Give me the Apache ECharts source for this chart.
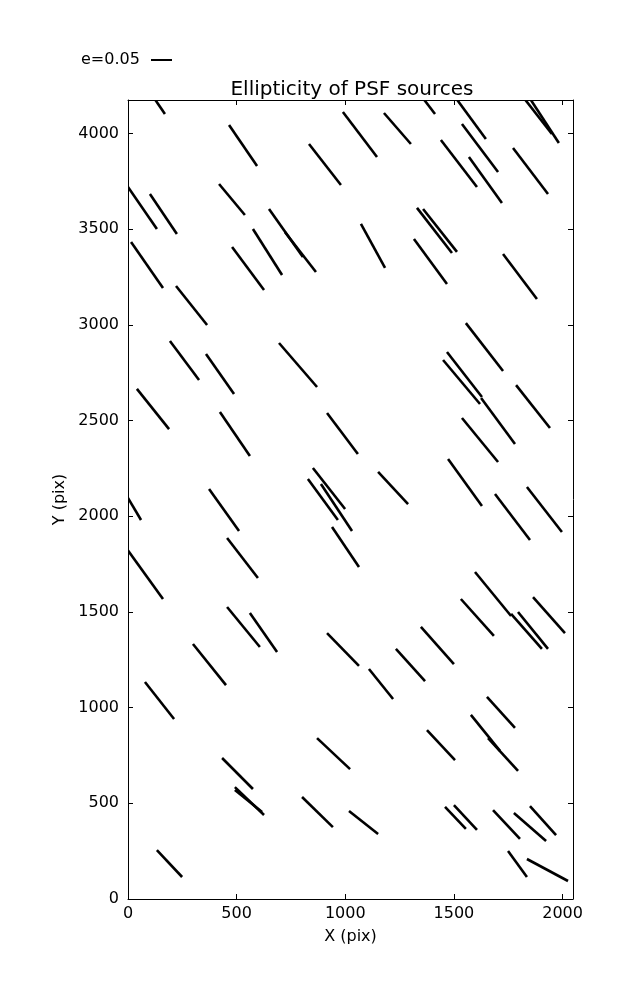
<!DOCTYPE html>
<html>
<head>
<meta charset="utf-8">
<script src="https://cdn.jsdelivr.net/npm/echarts@6/dist/echarts.min.js"></script>
<style>
html,body{margin:0;padding:0;background:#fff;}
#chart{width:637px;height:1000px;}
</style>
</head>
<body>
<div id="chart"></div>
<script>
// Whisker end points (data units, CCD pixels)
const xStart = [120,465,989,833,0,101,419,649,722,575,479,14,221,193,359,695,
  1178,1353,1505,1818,1845,1537,1440,1569,1772,1072,1330,1358,1316,1726,1555,1450,1468,1625,
  41,423,916,1786,1537,1151,851,828,888,1473,1689,1836,-10,373,939,456,-5,1597,1532,1763,1795,1864,
  456,561,916,1348,299,78,1233,1109,1652,1578,1657,1376,870,433,492,492,801,1017,1459,1500,1680,1776,1850,133,1749,1836];
const yStart = [4186,4045,4113,3946,3721,3685,3737,3606,3486,3502,3408,3434,3204,2916,2848,2906,
  4108,4192,4192,4192,4192,4051,3967,3878,3925,3528,3612,3606,3449,3371,3010,2817,2859,2618,
  2666,2545,2540,2686,2514,2232,2253,2195,2169,2300,2117,2153,2115,2143,1944,1887,1829,1709,1568,1490,1500,1578,
  1526,1495,1390,1422,1333,1134,1307,1202,1056,962,841,883,841,737,585,570,533,460,481,491,465,449,486,256,251,209];
const xEnd = [170,594,1146,980,133,225,538,805,865,709,626,161,364,327,488,870,
  1302,1413,1647,1951,1983,1703,1606,1721,1933,1183,1491,1514,1468,1882,1726,1620,1629,1781,
  189,561,1058,1942,1703,1289,999,966,1031,1629,1850,1997,60,511,1063,598,161,1763,1684,1905,1933,2011,
  607,686,1063,1500,451,212,1367,1220,1781,1712,1795,1505,1022,575,626,617,943,1151,1555,1606,1804,1924,1970,249,1836,2025];
const yEnd = [4103,3831,3878,3732,3502,3476,3575,3355,3277,3261,3183,3193,3000,2713,2639,2676,
  3946,4103,3972,3998,3951,3800,3721,3638,3685,3298,3376,3382,3214,3136,2760,2587,2624,2378,
  2456,2315,2326,2462,2284,2064,2038,1981,1923,2054,1876,1918,1981,1923,1735,1678,1568,1479,1375,1307,1307,1390,
  1317,1291,1218,1228,1118,941,1139,1045,894,774,669,726,679,575,439,455,376,340,366,361,314,303,334,115,115,94];

const xTicks = [0, 500, 1000, 1500, 2000];
const yTicks = [0, 500, 1000, 1500, 2000, 2500, 3000, 3500, 4000];
const xMax = 2048, yMax = 4176;
const titleText = 'Ellipticity of PSF sources';
const keyLabel = 'e=0.05';

const segData = xStart.map((v, i) => [v, yStart[i], xEnd[i], yEnd[i]]);

const FONT = 'DejaVu Sans';
const chart = echarts.init(document.getElementById('chart'), null, {renderer: 'canvas'});

const baseAxis = {
  type: 'value',
  interval: 500,
  splitLine: {show: false},
  axisLine: {show: true, onZero: false, lineStyle: {color: '#000', width: 1}},
  axisTick: {show: true, inside: true, length: 5, lineStyle: {color: '#000', width: 1}}
};

chart.setOption({
  animation: false,
  backgroundColor: '#fff',
  title: {
    text: titleText,
    left: 347,
    textAlign: 'center',
    top: 75,
    textStyle: {fontFamily: FONT, fontSize: 20, fontWeight: 'normal', color: '#000'}
  },
  grid: {left: 128, right: 64, top: 100, bottom: 101, containLabel: false},
  xAxis: [
    Object.assign({}, baseAxis, {
      min: 0, max: xMax, position: 'bottom',
      name: 'X (pix)', nameLocation: 'middle', nameGap: 30,
      nameTextStyle: {fontFamily: FONT, fontSize: 16, color: '#000'},
      axisLabel: {fontFamily: FONT, fontSize: 16, color: '#000', margin: 7,
        showMaxLabel: false,
        formatter: v => xTicks.indexOf(v) >= 0 ? String(v) : ''}
    }),
    Object.assign({}, baseAxis, {
      min: 0, max: xMax, position: 'top', axisLabel: {show: false}
    })
  ],
  yAxis: [
    Object.assign({}, baseAxis, {
      min: 0, max: yMax, position: 'left',
      name: 'Y (pix)', nameLocation: 'middle', nameGap: 57, nameRotate: 90,
      nameTextStyle: {fontFamily: FONT, fontSize: 16, color: '#000'},
      axisLabel: {fontFamily: FONT, fontSize: 16, color: '#000', margin: 9,
        showMaxLabel: false,
        formatter: v => yTicks.indexOf(v) >= 0 ? String(v) : ''}
    }),
    Object.assign({}, baseAxis, {
      min: 0, max: yMax, position: 'right', axisLabel: {show: false}
    })
  ],
  graphic: [
    {type: 'text', left: 81, top: 52,
      style: {text: keyLabel, fontFamily: FONT, fontSize: 16, fill: '#000'}},
    {type: 'line', shape: {x1: 151, y1: 60, x2: 172, y2: 60},
      style: {stroke: '#000', lineWidth: 2}}
  ],
  series: [{
    type: 'custom',
    xAxisIndex: 0, yAxisIndex: 0,
    clip: true,
    data: segData,
    renderItem: function (params, api) {
      const p1 = api.coord([api.value(0), api.value(1)]);
      const p2 = api.coord([api.value(2), api.value(3)]);
      return {
        type: 'line',
        shape: {x1: p1[0], y1: p1[1], x2: p2[0], y2: p2[1]},
        style: {stroke: '#000', lineWidth: 2.6, lineCap: 'butt'}
      };
    }
  }]
});
</script>
</body>
</html>
